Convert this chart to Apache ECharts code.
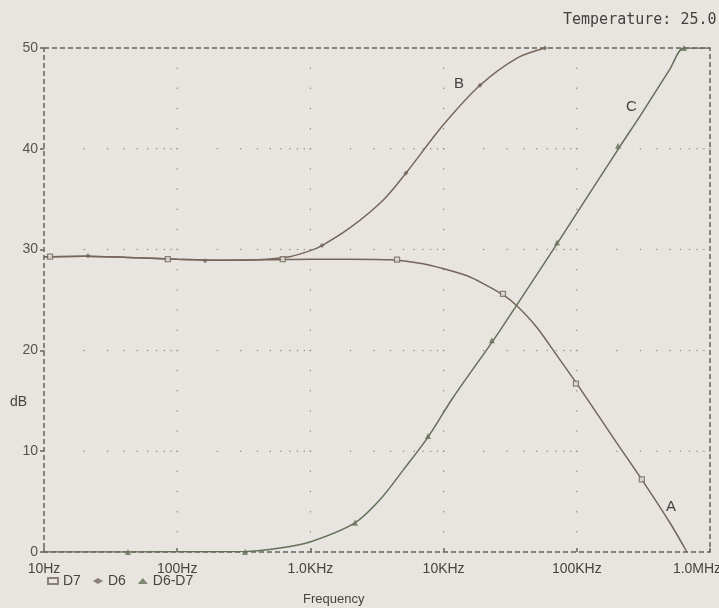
<!DOCTYPE html>
<html><head><meta charset="utf-8">
<script src="https://cdn.jsdelivr.net/npm/echarts@6/dist/echarts.min.js"></script>
<style>html,body{margin:0;padding:0;background:#e8e4df;}#c{width:719px;height:608px;}</style>
</head><body><div id="c"></div>
<script>
// ---- data (frequency in Hz, level in dB) ----
const xTickLabels = ['10Hz', '100Hz', '1.0KHz', '10KHz', '100KHz', '1.0MHz'];
const yTicks = [0, 10, 20, 30, 40, 50];
const seriesNames = ['D7', 'D6', 'D6-D7'];

const d7Curve = [[10, 29.3], [20, 29.35], [50, 29.2], [100, 29.05], [200, 28.95], [500, 29.0], [1000, 29.05], [2000, 29.05], [4000, 29.0], [7000, 28.6], [10000, 28.1], [15000, 27.4], [20000, 26.6], [28000, 25.5], [35000, 24.5], [50000, 22.3], [70000, 19.6], [100000, 16.7], [200000, 10.8], [300000, 7.4], [500000, 2.9], [671000, 0]];
const d7Marks = [[11.1, 29.3], [85, 29.05], [620, 29.05], [4470, 29.0], [27900, 25.6], [98600, 16.7], [308000, 7.2]];

const d6Curve = [[10, 29.3], [20, 29.35], [50, 29.2], [100, 29.05], [200, 28.95], [400, 29.0], [700, 29.3], [1000, 29.9], [1222, 30.4], [2000, 32.2], [3510, 34.9], [5220, 37.6], [10000, 42.4], [18770, 46.3], [35600, 49.0], [57700, 50]];
const d6Marks = [[21.4, 29.4], [162, 28.9], [1222, 30.4], [5220, 37.6], [18770, 46.3], [57700, 50]];

const diffCurve = [[10, 0], [100, 0.02], [323, 0.05], [592, 0.4], [991, 1.0], [2162, 2.9], [3334, 5.2], [4955, 8.1], [7640, 11.4], [11750, 15.3], [23600, 21.0], [35000, 24.4], [72000, 30.7], [210000, 40.2], [300000, 43.3], [500000, 47.9], [638000, 50], [1000000, 50]];
const diffMarks = [[42.7, 0], [323, 0], [2162, 2.9], [7640, 11.5], [23000, 21.0], [71000, 30.7], [204000, 40.3], [638000, 50]];

// ---- grid helpers (graph-paper dots) ----
const decades = [10, 100, 1000, 10000, 100000];
const minorFreqs = [];
decades.forEach(d => { for (let k = 1; k <= 9; k++) minorFreqs.push(d * k); });
minorFreqs.push(1000000);
const hLevels = [10, 20, 30, 40];
const vDecades = [100, 1000, 10000, 100000];
const vSteps = [];
for (let v = 2; v < 50; v += 2) vSteps.push(v);

const lineColors = ['#72665c', '#76675b', '#647059'];
const frameColor = '#62655c';
const chart = echarts.init(document.getElementById('c'));

function dot(p) {
  return { type: 'circle', shape: { cx: p[0], cy: p[1], r: 0.75 }, style: { fill: '#8f8c86' } };
}
const font = 'Liberation Sans, Arial, sans-serif';

chart.setOption({
  backgroundColor: '#e8e4df',
  animation: false,
  grid: { left: 44, right: 9, top: 48, bottom: 56, outerBoundsMode: 'none', containLabel: false, show: true, borderColor: frameColor, borderWidth: 1.5, borderType: [5, 3], backgroundColor: 'transparent' },
  xAxis: {
    type: 'log', logBase: 10, min: 10, max: 1000000,
    axisLine: { show: false },
    axisTick: { show: true, inside: true, length: 4, lineStyle: { color: frameColor, width: 1.5 } },
    splitLine: { show: false },
    axisLabel: {
      margin: 10, fontSize: 14, color: '#45453f', fontFamily: font, hideOverlap: false,
      formatter: v => {
        const i = Math.round(Math.log10(v)) - 1;
        const t = xTickLabels[i] || '';
        return i === xTickLabels.length - 1 ? '{m|' + t + '}' : t;
      },
      rich: { m: { fontSize: 14, color: '#45453f', padding: [0, 26, 0, 0], fontFamily: font } }
    }
  },
  yAxis: {
    type: 'value', min: 0, max: 50, interval: 10,
    axisLine: { show: false },
    axisTick: { show: true, length: 4, lineStyle: { color: frameColor, width: 1.5 } },
    splitLine: { show: false },
    axisLabel: { margin: 6, fontSize: 14, color: '#55554f', fontFamily: font, formatter: v => yTicks.includes(v) ? String(v) : '' }
  },
  legend: {
    data: seriesNames, left: 42, top: 569, itemWidth: 10, itemHeight: 6, itemGap: 12,
    textStyle: { fontSize: 14, color: '#45453f', fontFamily: font }
  },
  graphic: [
    { type: 'text', left: 563, top: 13, style: { text: 'Temperature: 25.0', font: '15px "DejaVu Sans Mono", monospace', fill: '#42423e' } },
    { type: 'text', left: 10, top: 395, style: { text: 'dB', font: '14px "Liberation Sans", Arial, sans-serif', fill: '#45453f' } },
    { type: 'text', left: 303, top: 593, style: { text: 'Frequency', font: '13px "Liberation Sans", Arial, sans-serif', fill: '#45453f' } },
    { type: 'text', left: 666, top: 499, style: { text: 'A', font: '15px "Liberation Sans", Arial, sans-serif', fill: '#42423e' } },
    { type: 'text', left: 454, top: 76, style: { text: 'B', font: '15px "Liberation Sans", Arial, sans-serif', fill: '#42423e' } },
    { type: 'text', left: 626, top: 99, style: { text: 'C', font: '15px "Liberation Sans", Arial, sans-serif', fill: '#42423e' } }
  ],
  series: [
    { type: 'custom', name: 'hgrid', silent: true, z: 1, data: hLevels.map(v => [10, v]),
      renderItem: (params, api) => ({ type: 'group', children: minorFreqs.map(f => dot(api.coord([f, api.value(1)]))) }) },
    { type: 'custom', name: 'vgrid', silent: true, z: 1, data: vDecades.map(v => [v, 0]),
      renderItem: (params, api) => ({ type: 'group', children: vSteps.map(s => dot(api.coord([api.value(0), s]))) }) },
    { type: 'line', name: 'D7 curve', data: d7Curve, smooth: 0.3, showSymbol: false, z: 3, lineStyle: { color: lineColors[0], width: 1.5 } },
    { type: 'line', name: 'D6 curve', data: d6Curve, smooth: 0.3, showSymbol: false, z: 3, lineStyle: { color: lineColors[1], width: 1.5 } },
    { type: 'line', name: 'D6-D7 curve', data: diffCurve, smooth: 0.3, showSymbol: false, z: 3, lineStyle: { color: lineColors[2], width: 1.5 } },
    { type: 'scatter', name: 'D7', data: d7Marks, symbol: 'rect', symbolSize: 5, z: 4, itemStyle: { color: '#e8e4df', borderColor: lineColors[0], borderWidth: 1.3 } },
    { type: 'scatter', name: 'D6', data: d6Marks, symbol: 'diamond', symbolSize: 5, z: 4, itemStyle: { color: lineColors[1] } },
    { type: 'scatter', name: 'D6-D7', data: diffMarks, symbol: 'triangle', symbolSize: 6, z: 4, itemStyle: { color: lineColors[2] } }
  ]
});
</script>
</body></html>
